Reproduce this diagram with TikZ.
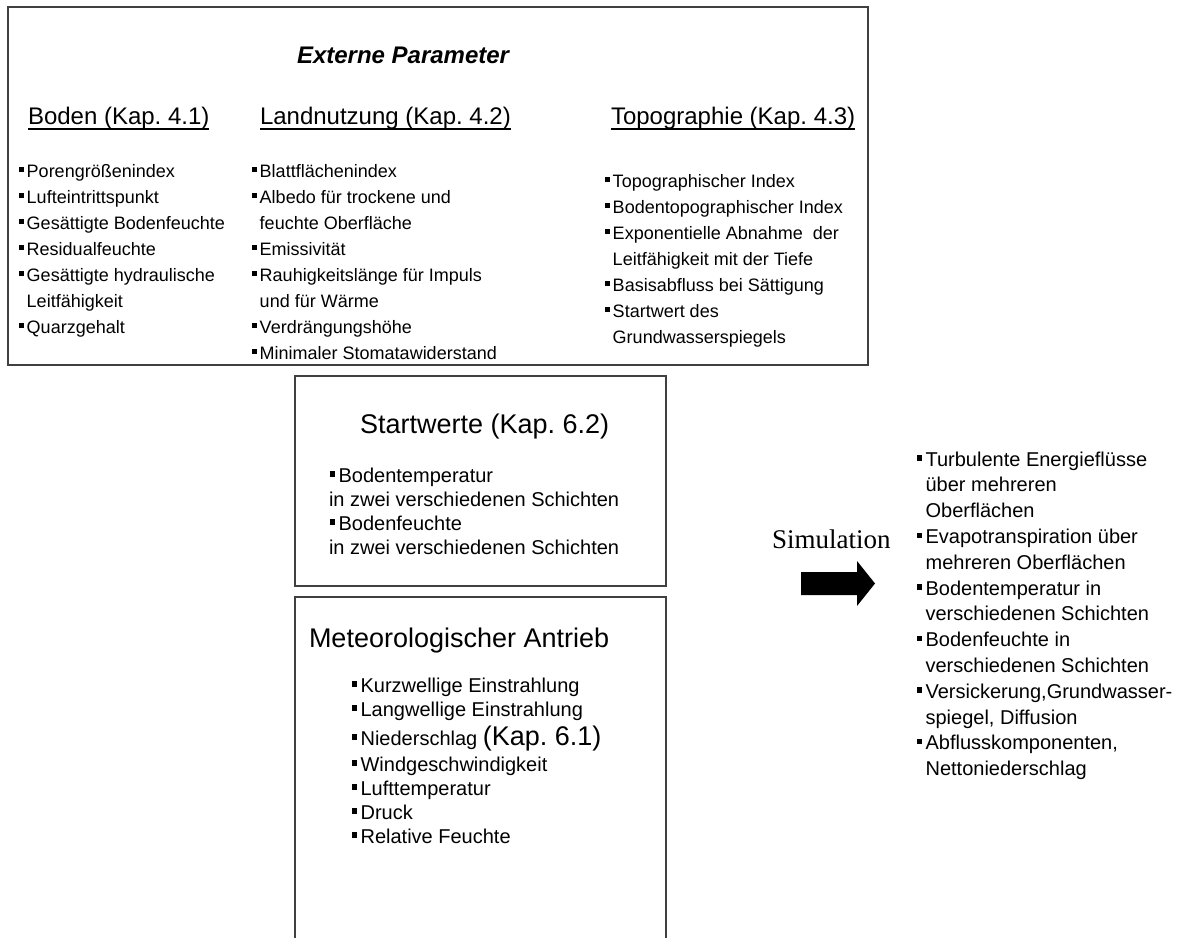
\documentclass[tikz,border=0pt]{standalone}
\usepackage{fontspec}
\setmainfont{Liberation Sans}
\newfontfamily\simserif{Liberation Serif}
\frenchspacing
\newcommand\bul{\rule[0.27em]{0.27em}{0.27em}\hspace{0.16em}}
\newcommand\cnt{\hphantom{\bul}}
\newcommand\myul[1]{\setbox0\hbox{#1}\rlap{\rule[-0.24em]{\wd0}{0.07em}}\box0}
\definecolor{boxgray}{HTML}{404040}
\begin{document}
\begin{tikzpicture}[x=1pt,y=-1pt,
  every node/.style={inner sep=0pt,outer sep=0pt,anchor=base west},
  frame/.style={draw=boxgray,line width=1.3pt},
  ttl/.style={font=\fontsize{24}{28}\selectfont\bfseries\itshape},
  hd/.style={font=\fontsize{24}{28}\selectfont},
  hdb/.style={font=\fontsize{27}{30}\selectfont},
  itm/.style={font=\fontsize{18}{22}\selectfont},
  itl/.style={font=\fontsize{20}{24}\selectfont}]
\useasboundingbox (0,0) rectangle (1184,938);
\fill[white] (0,0) rectangle (1184,938);
% boxes
\node[frame,anchor=north west,minimum width=860pt,minimum height=358pt] (ext) at (8,7) {};
\node[frame,anchor=north west,minimum width=371pt,minimum height=210pt] (start) at (295,376) {};
\coordinate (mbl) at (295,938);
\coordinate (mtl) at (295,597);
\coordinate (mtr) at (666,597);
\coordinate (mbr) at (666,938);
\draw[frame] (mbl) -- (mtl) -- (mtr) -- (mbr);
% title and headings
\node[ttl] (title) at (297,63) {Externe Parameter};
\node[hd] (hboden) at (28,124) {\myul{Boden (Kap. 4.1)}};
\node[hd] (hland) at (260,124) {\myul{Landnutzung (Kap. 4.2)}};
\node[hd] (htopo) at (611,124) {\myul{Topographie (Kap. 4.3)}};
% Boden
\foreach \t [count=\i from 0] in {{\bul Porengrößenindex},{\bul Lufteintrittspunkt},{\bul Gesättigte Bodenfeuchte},{\bul Residualfeuchte},{\bul Gesättigte hydraulische},{\cnt Leitfähigkeit},{\bul Quarzgehalt}}
  \node[itm] (bo\i) at (19,{177+26*\i}) {\t};
% Landnutzung
\foreach \t [count=\i from 0] in {{\bul Blattflächenindex},{\bul Albedo für trockene und},{\cnt feuchte Oberfläche},{\bul Emissivität},{\bul Rauhigkeitslänge für Impuls},{\cnt und für Wärme},{\bul Verdrängungshöhe},{\bul Minimaler Stomatawiderstand}}
  \node[itm] (la\i) at (252,{177+26*\i}) {\t};
% Topographie
\foreach \t [count=\i from 0] in {{\bul Topographischer Index},{\bul Bodentopographischer Index},{\bul Exponentielle Abnahme\ \ der},{\cnt Leitfähigkeit mit der Tiefe},{\bul Basisabfluss bei Sättigung},{\bul Startwert des},{\cnt Grundwasserspiegels}}
  \node[itm] (to\i) at (605,{187+26*\i}) {\t};
% Startwerte
\node[hdb] (hstart) at (360,433) {Startwerte (Kap. 6.2)};
\node[itl] (st0) at (330,482) {\bul Bodentemperatur};
\node[itl] (st1) at (329,506) {in zwei verschiedenen Schichten};
\node[itl] (st2) at (330,530) {\bul Bodenfeuchte};
\node[itl] (st3) at (329,554) {in zwei verschiedenen Schichten};
% Meteorologischer Antrieb
\node[hdb] (hmet) at (309,647) {Meteorologischer Antrieb};
\node[itl] (me0) at (352,692) {\bul Kurzwellige Einstrahlung};
\node[itl] (me1) at (352,716) {\bul Langwellige Einstrahlung};
\node[itl] (me2) at (352,745) {\bul Niederschlag {\fontsize{27}{30}\selectfont(Kap. 6.1)}};
\node[itl] (me3) at (352,771) {\bul Windgeschwindigkeit};
\node[itl] (me4) at (352,795) {\bul Lufttemperatur};
\node[itl] (me5) at (352,819) {\bul Druck};
\node[itl] (me6) at (352,843) {\bul Relative Feuchte};
% Simulation
\node[font=\simserif\fontsize{27}{30}\selectfont] (sim) at (772,548) {Simulation};
\fill (801,572) -- (857,572) -- (857,561) -- (875,583.5) -- (857,606) -- (857,595) -- (801,595) -- cycle;
% results
\foreach \t [count=\i from 0] in {{\bul Turbulente Energieflüsse},{\cnt über mehreren},{\cnt Oberflächen},{\bul Evapotranspiration über},{\cnt mehreren Oberflächen},{\bul Bodentemperatur in},{\cnt verschiedenen Schichten},{\bul Bodenfeuchte in},{\cnt verschiedenen Schichten},{\bul Versickerung,Grundwasser-},{\cnt spiegel, Diffusion},{\bul Abflusskomponenten,},{\cnt Nettoniederschlag}}
  \node[itl] (re\i) at (917,{466+25.8*\i}) {\t};
\end{tikzpicture}
\end{document}
